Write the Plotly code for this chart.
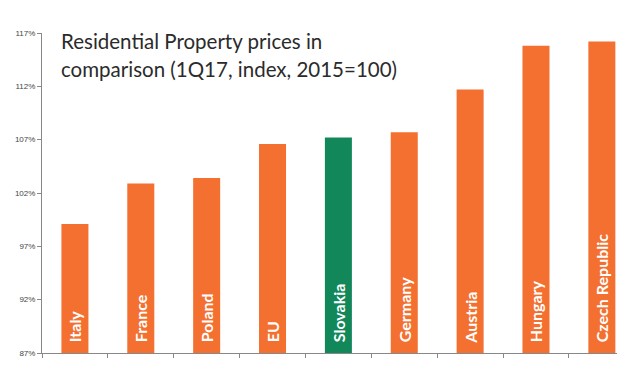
import plotly.graph_objects as go

countries = ["Italy", "France", "Poland", "EU", "Slovakia", "Germany", "Austria", "Hungary", "Czech Republic"]
values = [99.1, 102.9, 103.4, 106.6, 107.2, 107.7, 111.7, 115.8, 116.2]
highlight = "Slovakia"
tick_vals = [87, 92, 97, 102, 107, 112, 117]
tick_text = ["87%", "92%", "97%", "102%", "107%", "112%", "117%"]
title_lines = ["Residential Property prices in", "comparison (1Q17, index, 2015=100)"]

ORANGE = "#F37030"
GREEN = "#12875A"
colors = [GREEN if c == highlight else ORANGE for c in countries]
PAD = "\u00a0\u00a0"

fig = go.Figure()
fig.add_trace(go.Bar(
    x=countries,
    y=[v - 87 for v in values],
    base=87,
    marker=dict(color=colors, line=dict(width=0)),
    width=0.41,
    text=[PAD + c for c in countries],
    textposition="inside",
    insidetextanchor="start",
    textangle=-90,
    textfont=dict(family="Lato", size=16, color="white", weight="bold"),
    hoverinfo="skip",
))

# page has an 8px body offset; margins chosen so the plot area lands on the reference pixels
fig.update_layout(
    width=625, height=373,
    margin=dict(l=34, r=16, t=25, b=28, autoexpand=False),
    paper_bgcolor="white",
    plot_bgcolor="white",
    showlegend=False,
    xaxis=dict(
        range=[-0.5, 8.23],
        showticklabels=False,
        ticks="outside", ticklen=4, tickcolor="#888",
        tickson="boundaries",
        showline=True, linecolor="#888", linewidth=1,
        showgrid=False, zeroline=False, automargin=False,
    ),
    yaxis=dict(
        range=[87, 117],
        tickvals=tick_vals, ticktext=tick_text,
        tickfont=dict(family="Liberation Sans", size=8, color="#444"),
        ticks="outside", ticklen=4, tickcolor="#888",
        showline=True, linecolor="#888", linewidth=1,
        showgrid=False, zeroline=False, automargin=False,
    ),
    annotations=[
        dict(text=t, xref="paper", yref="paper", x=0.029, y=yy,
             xanchor="left", yanchor="middle", align="left", showarrow=False,
             font=dict(family="Lato", size=20.5, color="#2b2b2b"))
        for t, yy in zip(title_lines, [0.976, 0.887])
    ],
)

fig.write_html("out.html")
